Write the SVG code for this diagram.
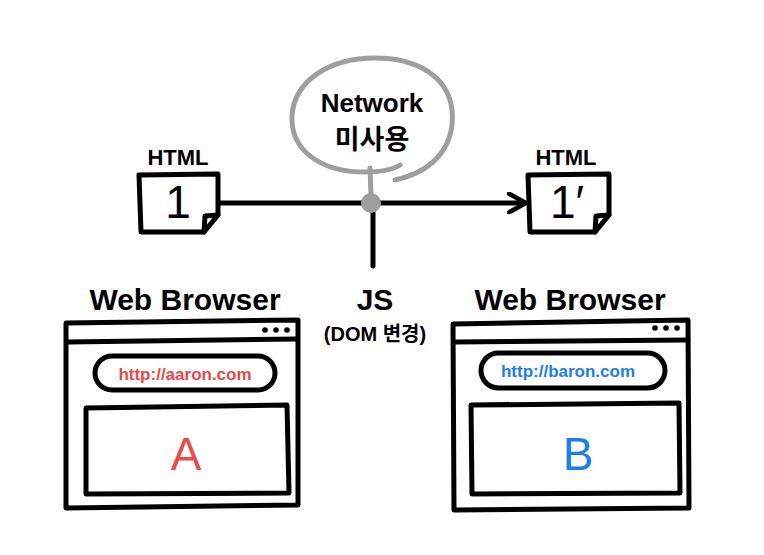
<svg xmlns="http://www.w3.org/2000/svg" width="764" height="555" viewBox="0 0 764 555">
<style>
.k{fill:none;stroke:#000;stroke-width:5;stroke-linecap:round;stroke-linejoin:round}
.t{font-family:"Liberation Sans","Noto Sans CJK KR",sans-serif;font-weight:bold;text-anchor:middle;fill:#000}
.u{font-family:"Liberation Sans",sans-serif;font-weight:bold;text-anchor:middle;font-size:17px}
.big{font-family:"Liberation Sans",sans-serif;text-anchor:middle;font-size:46px}
</style>
<defs>
<marker id="ah" viewBox="0 0 12 12" refX="9" refY="6" markerWidth="4.5" markerHeight="4.5" orient="auto" markerUnits="strokeWidth">
<path d="M1,1 L10,6 L1,11" fill="none" stroke="#000" stroke-width="2.4" stroke-linecap="round" stroke-linejoin="round"/>
</marker>
</defs>
<rect width="764" height="555" fill="#fff"/>
<g id="connectors">
<line x1="220" y1="203" x2="524" y2="203" class="k" stroke-width="6" marker-end="url(#ah)"/>
<line x1="373" y1="205" x2="373" y2="266" class="k" stroke-width="6"/>
<line x1="370" y1="168" x2="371" y2="195" stroke="#9e9e9e" stroke-width="5" stroke-linecap="round"/>
</g>
<g id="bubble">
<path d="M395,180 C440,170 455,140 452,110 C448,75 415,58 375,58 C330,58 295,80 292,115 C290,150 320,172 365,172 C380,172 392,170 400,165" fill="none" stroke="#9e9e9e" stroke-width="5" stroke-linecap="round"/>
<text x="372" y="112" class="t" font-size="26">Network</text>
<text x="372" y="149" class="t" font-size="27">미사용</text>
</g>
<g id="node-dot">
<circle cx="371" cy="203" r="10" fill="#9e9e9e"/>
</g>
<g id="html1">
<text x="178" y="165" class="t" font-size="22">HTML</text>
<path d="M139,175 L218,174 L218,215 L204,232 L141,232 Z" class="k" fill="#fff"/>
<path d="M218,215 L205,216 L204,232" class="k" stroke-width="3.5"/>
<text x="178" y="218" class="big" font-size="38">1</text>
</g>
<g id="html2">
<text x="566" y="165" class="t" font-size="22">HTML</text>
<path d="M528,175 L609,174 L609,215 L595,232 L530,232 Z" class="k" fill="#fff"/>
<path d="M609,215 L596,216 L595,232" class="k" stroke-width="3.5"/>
<text x="567" y="218" class="big" font-size="38">1′</text>
</g>
<g id="js">
<text x="375" y="310" class="t" font-size="30">JS</text>
<text x="375" y="341" class="t" font-size="20">(DOM 변경)</text>
</g>
<g id="browserA">
<text x="185" y="310" class="t" font-size="30">Web Browser</text>
<path d="M66,323 L298,320 L298,505 L66,508 Z" class="k" stroke-width="6"/>
<line x1="68" y1="342" x2="297" y2="339" class="k"/>
<circle cx="265" cy="330" r="2.8"/><circle cx="276" cy="330" r="2.8"/><circle cx="287" cy="330" r="2.8"/>
<rect x="95" y="356" width="180" height="34" rx="17" class="k"/>
<text x="185" y="380" class="u" fill="#e84848">http://aaron.com</text>
<path d="M86,408 L287,405 L289,493 L86,494 Z" class="k"/>
<text x="186" y="470" class="big" fill="#ea4a4a">A</text>
</g>
<g id="browserB">
<text x="570" y="310" class="t" font-size="30">Web Browser</text>
<path d="M453,324 L688,320 L689,508 L454,510 Z" class="k" stroke-width="6"/>
<line x1="455" y1="342" x2="688" y2="340" class="k"/>
<circle cx="655" cy="328" r="2.8"/><circle cx="666" cy="328" r="2.8"/><circle cx="677" cy="328" r="2.8"/>
<rect x="481" y="353" width="184" height="35" rx="17.5" class="k"/>
<text x="568" y="377" class="u" fill="#1a7fe8">http://baron.com</text>
<path d="M471,405 L679,403 L680,493 L472,494 Z" class="k"/>
<text x="578" y="470" class="big" fill="#1a7fe8">B</text>
</g>
</svg>
